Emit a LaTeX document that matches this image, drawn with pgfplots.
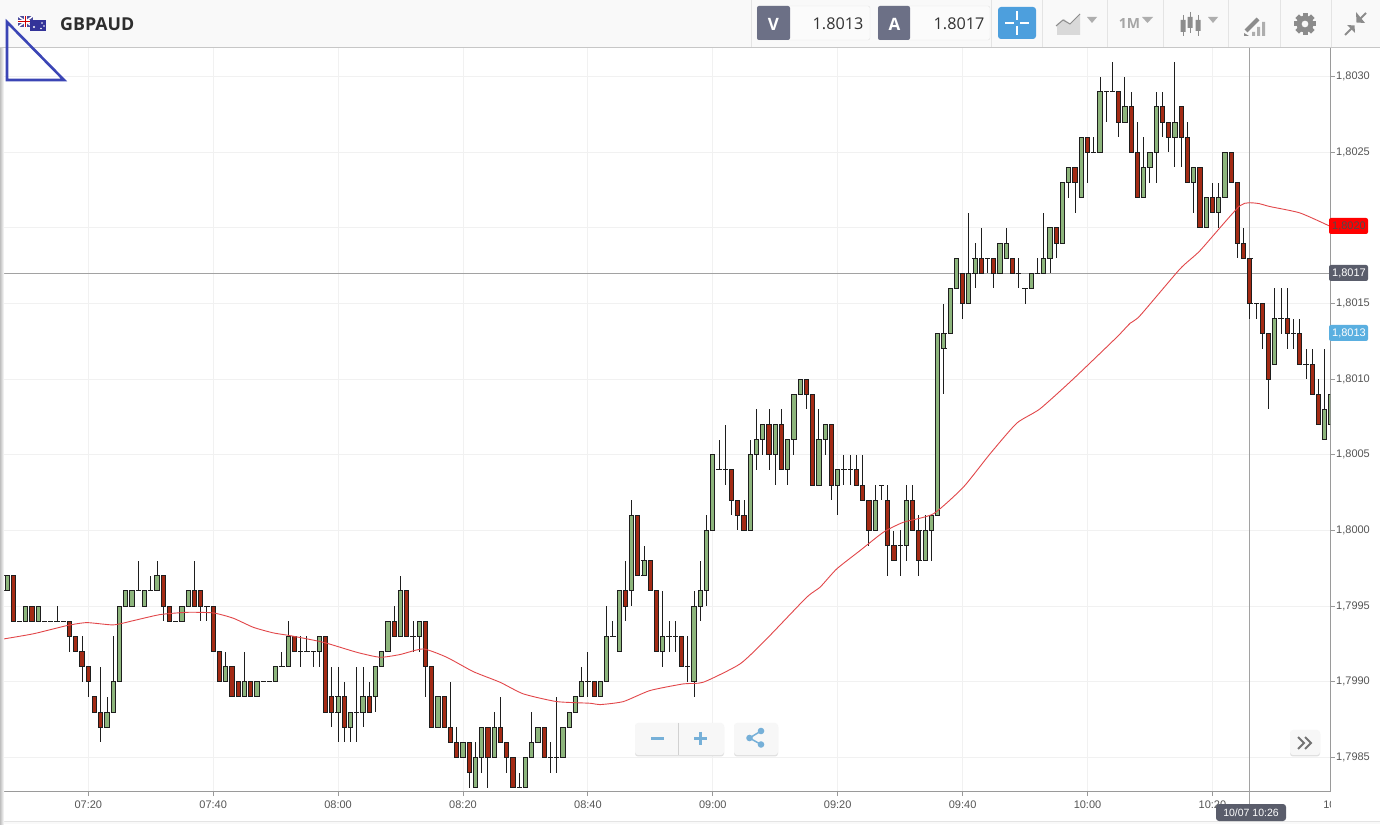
\documentclass[border=0pt]{standalone}
\usepackage{fontspec}
\usepackage{pgfplots}
\usepackage{pgfplotstable}
\pgfplotsset{compat=1.18}
\setmainfont{Liberation Sans}
\newfontfamily\osans{Open Sans}

\definecolor{upc}{HTML}{8DB57C}
\definecolor{downc}{HTML}{A32A14}
\definecolor{wickc}{HTML}{1E1E1E}
\definecolor{gridc}{HTML}{F1F1F1}
\definecolor{axisc}{HTML}{9A9A9A}
\definecolor{hairc}{HTML}{A2A2A2}
\definecolor{labelc}{HTML}{555555}
\definecolor{mac}{HTML}{E2474A}
\definecolor{headc}{HTML}{F9F9F9}
\definecolor{sepc}{HTML}{E4E4E4}
\definecolor{slatec}{HTML}{6C7086}
\definecolor{tagc}{HTML}{5A5D6B}
\definecolor{btnc}{HTML}{4D9FDD}
\definecolor{skyc}{HTML}{5AAFE0}
\definecolor{iconc}{HTML}{8C8C8C}
\definecolor{zoomc}{HTML}{76B0D8}

% t = minutes after 07:00; lo, body bottom, body top, hi
\pgfplotstableread{
t lo bot top hi
6 1.7996 1.7996 1.7996 1.7997
7 1.7996 1.7996 1.7997 1.7997
9 1.7994 1.7994 1.7994 1.7994
10 1.7994 1.7994 1.7995 1.7995
12 1.7994 1.7994 1.7995 1.7995
13 1.7994 1.7994 1.7994 1.7994
14 1.7994 1.7994 1.7994 1.7994
15 1.7994 1.7994 1.7994 1.7995
16 1.7994 1.7994 1.7994 1.7994
23 1.7987 1.7987 1.7988 1.7989
24 1.7988 1.7988 1.7990 1.7993
25 1.7990 1.7990 1.7995 1.7995
26 1.7995 1.7995 1.7996 1.7996
27 1.7995 1.7995 1.7996 1.7996
28 1.7996 1.7996 1.7996 1.7998
29 1.7995 1.7995 1.7996 1.7996
30 1.7996 1.7996 1.7996 1.7997
31 1.7996 1.7996 1.7997 1.7998
34 1.7994 1.7994 1.7994 1.7994
35 1.7994 1.7994 1.7995 1.7995
36 1.7995 1.7995 1.7996 1.7996
39 1.7994 1.7995 1.7995 1.7995
42 1.7990 1.7990 1.7991 1.7992
45 1.7989 1.7989 1.7990 1.7992
47 1.7989 1.7989 1.7990 1.7990
48 1.7990 1.7990 1.7990 1.7990
49 1.7990 1.7990 1.7990 1.7990
50 1.7990 1.7990 1.7991 1.7991
51 1.7991 1.7991 1.7991 1.7992
52 1.7991 1.7991 1.7993 1.7994
54 1.7991 1.7992 1.7992 1.7993
55 1.7992 1.7992 1.7992 1.7993
56 1.7991 1.7992 1.7992 1.7992
57 1.7991 1.7992 1.7993 1.7993
60 1.7986 1.7988 1.7989 1.7991
62 1.7986 1.7987 1.7988 1.7988
63 1.7986 1.7988 1.7988 1.7991
64 1.7987 1.7988 1.7989 1.7991
66 1.7988 1.7989 1.7991 1.7991
67 1.7991 1.7991 1.7992 1.7992
68 1.7992 1.7992 1.7994 1.7994
70 1.7993 1.7993 1.7996 1.7997
72 1.7992 1.7993 1.7993 1.7994
73 1.7992 1.7993 1.7994 1.7994
76 1.7987 1.7987 1.7989 1.7989
80 1.7985 1.7985 1.7986 1.7986
82 1.7983 1.7983 1.7985 1.7986
83 1.7984 1.7985 1.7987 1.7987
85 1.7985 1.7985 1.7987 1.7988
89 1.7983 1.7983 1.7983 1.7984
90 1.7983 1.7983 1.7985 1.7985
91 1.7985 1.7985 1.7986 1.7988
92 1.7986 1.7986 1.7987 1.7987
94 1.7984 1.7985 1.7985 1.7986
95 1.7984 1.7985 1.7985 1.7989
96 1.7985 1.7985 1.7987 1.7987
97 1.7987 1.7987 1.7988 1.7988
98 1.7988 1.7988 1.7989 1.7989
99 1.7989 1.7989 1.7990 1.7991
100 1.7989 1.7990 1.7990 1.7992
102 1.7989 1.7989 1.7990 1.7990
103 1.7990 1.7990 1.7993 1.7995
104 1.7993 1.7993 1.7993 1.7994
105 1.7992 1.7992 1.7996 1.7996
107 1.7995 1.7996 1.8001 1.8002
109 1.7997 1.7997 1.7998 1.7999
112 1.7991 1.7992 1.7993 1.7996
113 1.7992 1.7993 1.7993 1.7994
114 1.7992 1.7993 1.7993 1.7994
116 1.7990 1.7991 1.7991 1.7993
117 1.7989 1.7990 1.7995 1.7996
118 1.7994 1.7995 1.7996 1.7998
119 1.7995 1.7996 1.8000 1.8001
120 1.8000 1.8000 1.8005 1.8005
121 1.8004 1.8004 1.8004 1.8006
122 1.8003 1.8004 1.8004 1.8007
126 1.8000 1.8000 1.8005 1.8006
127 1.8004 1.8005 1.8006 1.8008
128 1.8005 1.8006 1.8007 1.8007
130 1.8003 1.8005 1.8007 1.8007
132 1.8003 1.8004 1.8006 1.8006
133 1.8005 1.8006 1.8009 1.8009
134 1.8009 1.8009 1.8010 1.8010
137 1.8003 1.8003 1.8006 1.8008
138 1.8005 1.8006 1.8007 1.8007
140 1.8001 1.8003 1.8004 1.8004
141 1.8003 1.8004 1.8004 1.8005
142 1.8003 1.8004 1.8004 1.8005
146 1.8000 1.8000 1.8002 1.8003
147 1.8002 1.8003 1.8003 1.8003
150 1.7997 1.7999 1.7999 1.8000
151 1.7998 1.7999 1.8002 1.8003
154 1.7998 1.7998 1.8000 1.8001
155 1.7998 1.8000 1.8001 1.8001
156 1.8001 1.8001 1.8013 1.8013
157 1.8009 1.8012 1.8013 1.8015
158 1.8013 1.8013 1.8016 1.8016
159 1.8016 1.8016 1.8018 1.8018
161 1.8015 1.8015 1.8017 1.8021
162 1.8016 1.8017 1.8018 1.8019
164 1.8017 1.8018 1.8018 1.8018
166 1.8017 1.8017 1.8019 1.8019
167 1.8018 1.8018 1.8019 1.8020
169 1.8016 1.8017 1.8017 1.8018
170 1.8015 1.8016 1.8016 1.8016
171 1.8016 1.8016 1.8017 1.8017
172 1.8017 1.8017 1.8017 1.8018
173 1.8017 1.8017 1.8018 1.8021
174 1.8017 1.8018 1.8020 1.8020
176 1.8019 1.8019 1.8023 1.8023
177 1.8022 1.8023 1.8024 1.8024
179 1.8022 1.8022 1.8026 1.8026
181 1.8025 1.8025 1.8025 1.8026
182 1.8025 1.8025 1.8029 1.8030
183 1.8027 1.8029 1.8029 1.8029
184 1.8029 1.8029 1.8029 1.8031
186 1.8027 1.8027 1.8028 1.8030
189 1.8022 1.8022 1.8024 1.8026
190 1.8023 1.8024 1.8025 1.8025
191 1.8023 1.8025 1.8028 1.8029
194 1.8024 1.8026 1.8027 1.8031
197 1.8021 1.8023 1.8024 1.8024
199 1.8020 1.8020 1.8022 1.8022
201 1.8020 1.8021 1.8022 1.8023
202 1.8022 1.8022 1.8025 1.8025
207 1.8014 1.8015 1.8015 1.8015
210 1.8011 1.8011 1.8014 1.8016
211 1.8013 1.8014 1.8014 1.8016
213 1.8012 1.8013 1.8013 1.8014
215 1.8010 1.8011 1.8011 1.8012
218 1.8006 1.8006 1.8008 1.8012
219 1.8007 1.8007 1.8009 1.8009
}\upcandles

\pgfplotstableread{
t lo bot top hi
8 1.7994 1.7994 1.7997 1.7997
11 1.7994 1.7994 1.7995 1.7995
17 1.7992 1.7993 1.7994 1.7994
18 1.7992 1.7992 1.7993 1.7993
19 1.7990 1.7991 1.7992 1.7993
20 1.7989 1.7990 1.7991 1.7991
21 1.7988 1.7988 1.7989 1.7989
22 1.7986 1.7987 1.7988 1.7991
32 1.7994 1.7995 1.7997 1.7997
33 1.7994 1.7994 1.7995 1.7995
37 1.7995 1.7995 1.7996 1.7998
38 1.7994 1.7995 1.7996 1.7996
40 1.7992 1.7992 1.7995 1.7995
41 1.7990 1.7990 1.7992 1.7992
43 1.7989 1.7989 1.7991 1.7991
44 1.7989 1.7989 1.7990 1.7990
46 1.7989 1.7989 1.7990 1.7990
53 1.7992 1.7992 1.7993 1.7993
58 1.7988 1.7988 1.7993 1.7993
59 1.7987 1.7988 1.7989 1.7991
61 1.7986 1.7987 1.7989 1.7990
65 1.7988 1.7988 1.7989 1.7990
69 1.7993 1.7993 1.7994 1.7995
71 1.7993 1.7993 1.7996 1.7996
74 1.7989 1.7991 1.7994 1.7994
75 1.7987 1.7987 1.7991 1.7991
77 1.7987 1.7987 1.7989 1.7989
78 1.7986 1.7986 1.7987 1.7990
79 1.7985 1.7985 1.7986 1.7987
81 1.7983 1.7984 1.7986 1.7986
84 1.7983 1.7985 1.7987 1.7987
86 1.7986 1.7986 1.7987 1.7989
87 1.7984 1.7985 1.7986 1.7986
88 1.7983 1.7983 1.7985 1.7985
93 1.7985 1.7985 1.7987 1.7987
101 1.7989 1.7989 1.7990 1.7990
106 1.7994 1.7995 1.7996 1.7998
108 1.7997 1.7997 1.8001 1.8001
110 1.7996 1.7996 1.7998 1.7998
111 1.7992 1.7992 1.7996 1.7996
115 1.7991 1.7991 1.7993 1.7993
123 1.8001 1.8002 1.8004 1.8004
124 1.8000 1.8001 1.8002 1.8002
125 1.8000 1.8000 1.8001 1.8002
129 1.8004 1.8005 1.8007 1.8008
131 1.8004 1.8004 1.8007 1.8008
135 1.8008 1.8009 1.8010 1.8010
136 1.8003 1.8003 1.8009 1.8009
139 1.8002 1.8003 1.8007 1.8007
143 1.8003 1.8003 1.8004 1.8005
144 1.8002 1.8002 1.8003 1.8005
145 1.7999 1.8000 1.8002 1.8002
148 1.7997 1.7999 1.8002 1.8003
149 1.7998 1.7998 1.7999 1.8000
152 1.8000 1.8000 1.8002 1.8003
153 1.7997 1.7998 1.8000 1.8001
160 1.8014 1.8015 1.8017 1.8017
163 1.8017 1.8017 1.8018 1.8020
165 1.8016 1.8017 1.8018 1.8018
168 1.8017 1.8017 1.8018 1.8018
175 1.8018 1.8019 1.8020 1.8020
178 1.8021 1.8023 1.8024 1.8024
180 1.8023 1.8025 1.8026 1.8026
185 1.8026 1.8027 1.8029 1.8029
187 1.8025 1.8025 1.8028 1.8029
188 1.8022 1.8022 1.8025 1.8027
192 1.8026 1.8027 1.8028 1.8029
193 1.8025 1.8026 1.8027 1.8027
195 1.8024 1.8026 1.8028 1.8028
196 1.8023 1.8023 1.8026 1.8027
198 1.8020 1.8020 1.8024 1.8024
200 1.8021 1.8021 1.8022 1.8023
203 1.8023 1.8023 1.8025 1.8025
204 1.8018 1.8019 1.8023 1.8023
205 1.8018 1.8018 1.8019 1.8020
206 1.8014 1.8015 1.8018 1.8018
208 1.8012 1.8013 1.8015 1.8015
209 1.8008 1.8010 1.8013 1.8013
212 1.8012 1.8013 1.8014 1.8016
214 1.8011 1.8011 1.8013 1.8014
216 1.8009 1.8009 1.8011 1.8012
217 1.8007 1.8007 1.8009 1.8010
}\downcandles

\pgfplotstableread{
t p
5.86 1.799279
11.19 1.799317
16.54 1.799371
19.74 1.799391
24.00 1.799376
27.21 1.799404
31.48 1.799444
35.76 1.799459
40.02 1.799455
43.22 1.799420
46.42 1.799360
49.62 1.799323
52.30 1.799305
57.63 1.799261
62.98 1.799195
66.71 1.799162
69.91 1.799180
73.64 1.799217
77.39 1.799162
81.65 1.799067
85.92 1.798997
89.66 1.798920
95.00 1.798869
100.33 1.798858
101.94 1.798849
105.67 1.798869
109.94 1.798942
115.28 1.798986
118.48 1.798997
124.36 1.799118
128.63 1.799284
135.04 1.799559
137.17 1.799625
139.84 1.799746
143.57 1.799867
147.30 1.799988
150.50 1.800054
155.31 1.800110
160.11 1.800286
164.38 1.800506
168.66 1.800709
172.39 1.800804
177.73 1.801002
184.67 1.801277
186.80 1.801369
188.41 1.801420
194.81 1.801729
198.02 1.801850
204.42 1.802147
207.09 1.802163
209.22 1.802141
214.02 1.802099
218.83 1.802011
}\matable

\pgfplotsset{
  wick/.style={draw=none, no markers, error bars/.cd, y dir=both, y explicit,
    error mark=none, error bar style={line width=1pt, line cap=butt, draw=wickc}},
  bodyfill/.style 2 args={draw=none, no markers, error bars/.cd, y dir=plus, y explicit,
    error mark=none, error bar style={line width=#1, line cap=butt, draw=#2}},
  bodyedge/.style={draw=none, no markers, error bars/.cd, x dir=both, x fixed=0.42,
    error mark=none, error bar style={line width=1pt, line cap=butt, draw=wickc}},
}

\newcommand\candles[2]{%
  \addplot[wick] table[x=t, y=bot, y error plus expr=\thisrow{hi}-\thisrow{bot}, y error minus expr=\thisrow{bot}-\thisrow{lo}] {#1};
  \addplot[bodyfill={5.2pt}{wickc}] table[x=t, y=bot, y error plus expr=\thisrow{top}-\thisrow{bot}] {#1};
  \addplot[bodyfill={3.2pt}{#2}] table[x=t, y=bot, y error plus expr=\thisrow{top}-\thisrow{bot}] {#1};
  \addplot[bodyedge] table[x=t, y=bot] {#1};
  \addplot[bodyedge] table[x=t, y=top] {#1};
}

\newcommand\fs[1]{\fontsize{#1}{#1}\selectfont}

\begin{document}
\begin{tikzpicture}[x=1pt, y=1pt]
\useasboundingbox (0,0) rectangle (1380,824);
\fill[white] (0,0) rectangle (1380,824);

\begin{axis}[
    at={(0pt,32.4pt)}, anchor=south west,
    scale only axis, width=1330pt, height=744pt,
    xmin=5.86, xmax=218.83,
    ymin=1.798274, ymax=1.803192,
    axis x line*=bottom, axis y line*=right,
    axis line style={draw=axisc, line width=1pt},
    xtick={20,40,...,200},
    xticklabels={07:20,07:40,08:00,08:20,08:40,09:00,09:20,09:40,10:00,10:20},
    ytick={1.7985,1.7990,1.7995,1.8000,1.8005,1.8010,1.8015,1.8020,1.8025,1.8030},
    yticklabels={{1,7985},{1,7990},{1,7995},{1,8000},{1,8005},{1,8010},{1,8015},{},{1,8025},{1,8030}},
    tick label style={font=\fs{11}, text=labelc, inner sep=1.5pt},
    xticklabel style={yshift=-3.5pt},
    tick align=outside, major tick length=4.5pt,
    tick style={draw=axisc, line width=1pt},
    grid=major, grid style={draw=gridc, line width=1pt},
  ]
  % crosshair at the last quote
  \addplot[draw=hairc, line width=1pt] coordinates {(5.86,1.8017)(218.83,1.8017)};
  \addplot[draw=hairc, line width=1pt] coordinates {(206,1.798274)(206,1.803192)};

  \candles{\upcandles}{upc}
  \candles{\downcandles}{downc}

  \addplot[draw=mac, line width=0.9pt, smooth, tension=0.35] table[x=t, y=p] {\matable};
\end{axis}

% everything below is screen furniture, in image pixels
\begin{scope}[yshift=824pt, x=1pt, y=-1pt]
  % 10:40 label cut by the plot edge
  \begin{scope}
    \clip (1300,795) rectangle (1330,815);
    \node[text=labelc, font=\fs{11}] at (1337,805) {10:40};
  \end{scope}
  % bottom and left edges
  \fill[headc] (0,821) rectangle (1380,824);
  \draw[sepc, line width=1pt] (0,821.5) -- (1380,821.5);
  \shade[left color=black!25, right color=white] (0,47) rectangle (4,824);

  % header bar
  \fill[headc] (0,0) rectangle (1380,47);
  \draw[black!22, line width=1pt] (0,47.5) -- (1380,47.5);
  \foreach \sx in {751,991,1042,1107,1163,1228,1280,1331}
    \draw[sepc, line width=1pt] (\sx,0) -- (\sx,47);

  % flags
  \fill[blue!45!black!70] (18,16) rectangle (33,27);
  \draw[white, line width=1.5pt] (18,16) -- (33,27) (18,27) -- (33,16);
  \draw[white, line width=2.5pt] (25.5,16) -- (25.5,27) (18,21.5) -- (33,21.5);
  \draw[red!80!black, line width=1.2pt] (25.5,16) -- (25.5,27) (18,21.5) -- (33,21.5);
  \fill[blue!50!black!80] (30,20) rectangle (46,31);
  \fill[white] (34,27) circle[radius=1.1pt] (42,23) circle[radius=0.9pt] (44,26) circle[radius=0.9pt] (41,28.5) circle[radius=0.9pt];
  \node[anchor=west, inner sep=0pt, font=\osans\bfseries\fs{17.8}, text=black!82] at (60,24.5) {GBPAUD};

  % drawn triangle
  \draw[draw={rgb,255:red,59;green,69;blue,181}, line width=2.6pt, line join=miter] (7,22) -- (7,80) -- (64,80) -- cycle;

  % sell and buy quotes
  \fill[headc!60!white, draw=sepc, rounded corners=2pt] (757,6) rectangle (870,40);
  \fill[slatec, rounded corners=2pt] (757,6) rectangle (790,40);
  \node[text=white, font=\osans\bfseries\fs{17}] at (773.5,24) {V};
  \node[anchor=east, inner sep=0pt, text=black!80, font=\osans\fs{16.2}] at (863.5,24) {1.8013};
  \fill[headc!60!white, draw=sepc, rounded corners=2pt] (878,6) rectangle (990,40);
  \fill[slatec, rounded corners=2pt] (878,6) rectangle (910,40);
  \node[text=white, font=\osans\bfseries\fs{17}] at (894.5,24) {A};
  \node[anchor=east, inner sep=0pt, text=black!80, font=\osans\fs{16.2}] at (984.5,24) {1.8017};

  % crosshair button
  \fill[btnc, rounded corners=3pt] (998,7) rectangle (1036,39);
  \draw[white, line width=1.5pt] (1005,23) -- (1014,23) (1020,23) -- (1029,23) (1017,11) -- (1017,20) (1017,26) -- (1017,35);

  % chart type, period, candle, pen, gear, collapse
  \fill[black!15] (1057,35) -- (1057,24) -- (1064,19) -- (1070,24) -- (1080,14) -- (1080,35) -- cycle;
  \draw[iconc, line width=1pt] (1056,26) -- (1063,20) -- (1070,24) -- (1080,14);
  \fill[iconc!70] (1087,17) -- (1097,17) -- (1092,23) -- cycle;
  \node[text=black!35, font=\osans\bfseries\fs{14}] at (1129.5,24) {1M};
  \fill[iconc!70] (1142,17) -- (1153,17) -- (1147.5,23) -- cycle;
  \draw[iconc, line width=1pt] (1183,15) -- (1183,36) (1190,12) -- (1190,33) (1198,15) -- (1198,36);
  \fill[iconc] (1180.5,20) rectangle (1185.5,32) (1187.5,17) rectangle (1192.5,28) (1195.5,20) rectangle (1200.5,31);
  \fill[iconc!70] (1208,17) -- (1218,17) -- (1213,23) -- cycle;
  \draw[iconc, line width=4pt] (1246,31) -- (1258,19);
  \fill[iconc] (1244,33) -- (1249,36) -- (1244,36) -- cycle;
  \fill[iconc!70] (1252,36) rectangle (1255,32) (1257,36) rectangle (1260,27) (1262,36) rectangle (1265,22);
  \foreach \a in {0,45,...,315}
    \fill[iconc, rotate around={\a:(1305,24)}] (1302.5,13) rectangle (1307.5,18);
  \fill[iconc, even odd rule] (1305,24) circle[radius=8.5pt] (1305,24) circle[radius=3.5pt];
  \draw[iconc, line width=2pt] (1345,35) -- (1353,27) (1358,21) -- (1366,13);
  \fill[iconc] (1347,25) -- (1354.5,25.5) -- (1355,33) -- cycle;
  \fill[iconc] (1356,12) -- (1356.5,22.5) -- (1365,23) -- cycle;

  % price tags
  \fill[red, rounded corners=2pt] (1329,218) rectangle (1368,234);
  \node[text=black!70, font=\fs{11}] at (1349,226.5) {1,8020};
  \fill[tagc, rounded corners=2pt] (1329,265) rectangle (1368,281);
  \node[text=white, font=\fs{11}] at (1349,273.5) {1,8017};
  \fill[skyc, rounded corners=2pt] (1329,325) rectangle (1368,341);
  \node[text=white, font=\fs{11}] at (1349,333.5) {1,8013};

  % zoom and share buttons
  \fill[black!12, rounded corners=3pt] (635,724) rectangle (724,756.5);
  \fill[black!3, rounded corners=3pt] (635,723) rectangle (724,755);
  \draw[black!18, line width=1pt] (678.5,723) -- (678.5,755);
  \draw[zoomc, line width=3pt] (651,738.5) -- (664,738.5);
  \draw[zoomc, line width=3pt] (694,738.5) -- (707,738.5) (700.5,732) -- (700.5,745);
  \fill[black!12, rounded corners=3pt] (734,724) rectangle (778,756.5);
  \fill[black!3, rounded corners=3pt] (734,723) rectangle (778,755);
  \draw[zoomc, line width=1.5pt] (761,731) -- (749.5,738) -- (761,744.5);
  \fill[zoomc] (761,731) circle[radius=3.3pt] (749.5,738) circle[radius=3.3pt] (761,744.5) circle[radius=3.3pt];
  \fill[black!12, rounded corners=3pt] (1290,731) rectangle (1320,756.5);
  \fill[black!3, rounded corners=3pt] (1290,730) rectangle (1320,755);
  \draw[black!55, line width=2pt] (1298,737) -- (1304,743) -- (1298,749) (1305,737) -- (1311,743) -- (1305,749);

  % crosshair foot and time tooltip
  \draw[hairc, line width=1pt] (1249.9,791) -- (1249.9,804);
  \fill[tagc, rounded corners=3pt] (1216,804) rectangle (1286,821);
  \node[text=white, font=\fs{10.5}] at (1251,812.5) {10/07 10:26};
\end{scope}
\end{tikzpicture}
\end{document}
